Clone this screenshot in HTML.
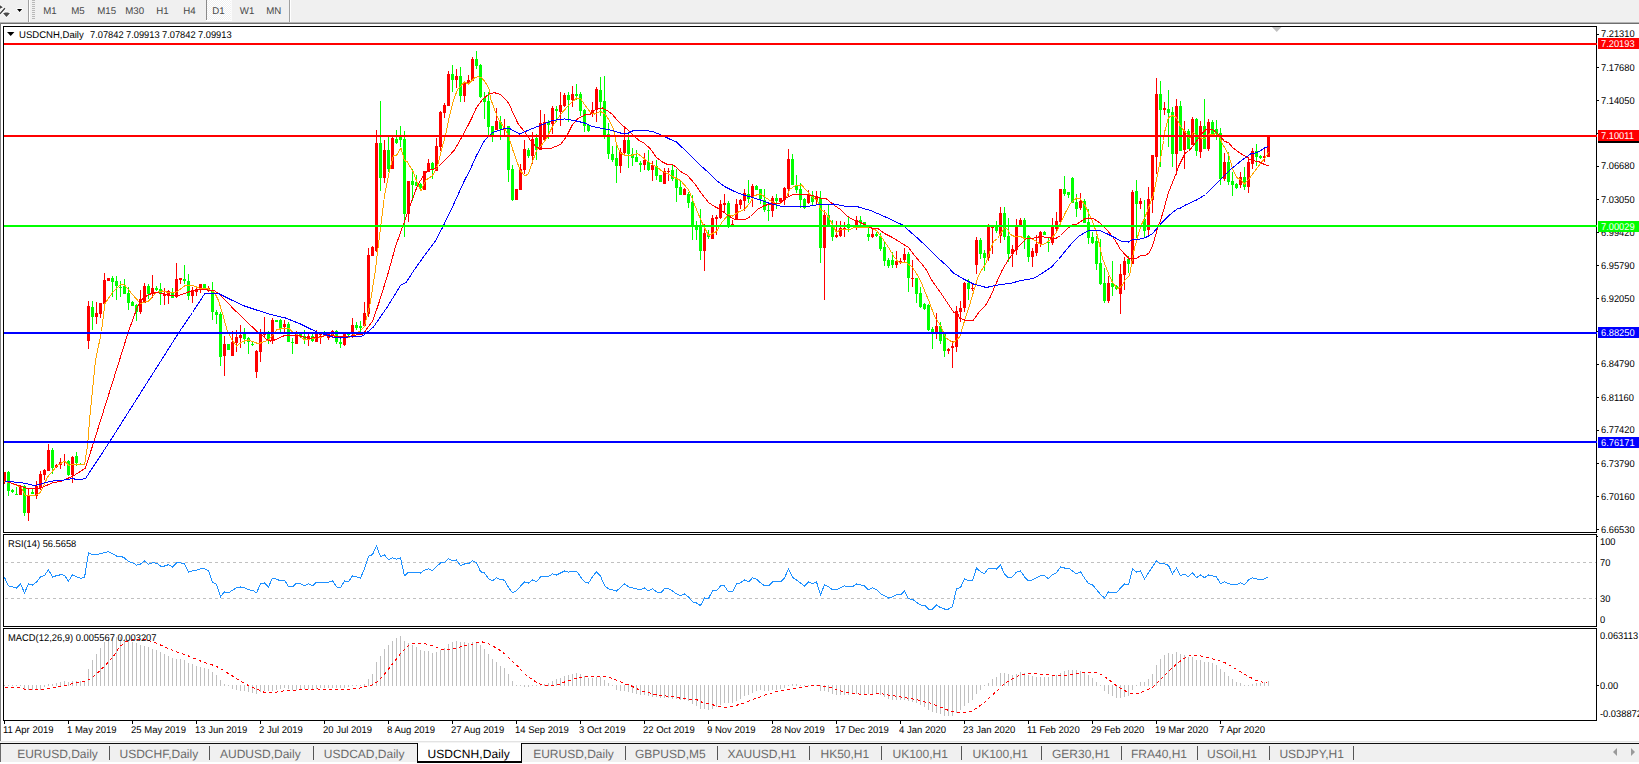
<!DOCTYPE html>
<html><head><meta charset="utf-8"><title>USDCNH,Daily</title>
<style>
html,body{margin:0;padding:0;background:#fff;overflow:hidden;}
body{width:1639px;height:764px;position:relative;overflow:hidden;font-family:"Liberation Sans", sans-serif;}
.t{position:absolute;white-space:pre;font-family:"Liberation Sans", sans-serif;transform-origin:0 0;text-rendering:geometricPrecision;}
.r{position:absolute;}
</style></head><body>
<div class="r" style="left:0px;top:0px;width:1639px;height:22px;background:#f0f0f0;"></div>
<div class="r" style="left:0px;top:22px;width:1639px;height:1px;background:#b4b4b4;"></div>
<div class="r" style="left:0px;top:23px;width:1639px;height:1px;background:#6e6e6e;"></div>
<div class="r" style="left:0px;top:23px;width:1px;height:718px;background:#808080;"></div>
<svg class="r" style="left:0;top:0" width="30" height="22" viewBox="0 0 30 22"><g stroke="#fff" stroke-width="1.6" stroke-linejoin="round" fill="#fff"><path d="M0 5.2 L2.9 7.3 L0 8.7 Z"/><path d="M4.9 8.2 L0 13.7" fill="none" stroke-width="3"/><path d="M3.1 13.3 L5.4 12.4 H7.6 L9.9 13.3 L6.5 17 Z"/><path d="M17 9 H22.2 L19.6 12 Z"/></g><path d="M0 5.2 L2.9 7.3 L0 8.7 Z" fill="#444"/><path d="M4.9 8.2 L0 13.7" stroke="#3c3c3c" stroke-width="1.3" fill="none"/><path d="M3.1 13.3 L5.4 12.4 H7.6 L9.9 13.3 L6.5 17 Z" fill="#4a4a4a"/><path d="M17 9 H22.2 L19.6 12 Z" fill="#000"/></svg>
<div class="r" style="left:28px;top:0px;width:1px;height:22px;background:#a0a0a0;"></div>
<div class="r" style="left:29px;top:0px;width:1px;height:22px;background:#ffffff;"></div>
<div class="r" style="left:32px;top:0px;width:3px;height:1px;background:#b8b8b8;"></div>
<div class="r" style="left:32px;top:2px;width:3px;height:1px;background:#b8b8b8;"></div>
<div class="r" style="left:32px;top:4px;width:3px;height:1px;background:#b8b8b8;"></div>
<div class="r" style="left:32px;top:6px;width:3px;height:1px;background:#b8b8b8;"></div>
<div class="r" style="left:32px;top:8px;width:3px;height:1px;background:#b8b8b8;"></div>
<div class="r" style="left:32px;top:10px;width:3px;height:1px;background:#b8b8b8;"></div>
<div class="r" style="left:32px;top:12px;width:3px;height:1px;background:#b8b8b8;"></div>
<div class="r" style="left:32px;top:14px;width:3px;height:1px;background:#b8b8b8;"></div>
<div class="r" style="left:32px;top:16px;width:3px;height:1px;background:#b8b8b8;"></div>
<div class="r" style="left:32px;top:18px;width:3px;height:1px;background:#b8b8b8;"></div>
<div class="r" style="left:207px;top:0;width:24px;height:20px;background-color:#f0f0f0;background-image:repeating-conic-gradient(#ffffff 0% 25%, #f0f0f0 0% 50%);background-size:2px 2px"></div>
<div class="r" style="left:206px;top:0px;width:1px;height:20px;background:#8a8a8a;"></div>
<div class="r" style="left:206px;top:20px;width:26px;height:1px;background:#ffffff;"></div>
<div class="r" style="left:231px;top:0px;width:1px;height:20px;background:#fafafa;"></div>
<div class="r" style="left:289px;top:0px;width:1px;height:22px;background:#a0a0a0;"></div>
<div class="r" style="left:290px;top:0px;width:1px;height:22px;background:#ffffff;"></div>
<span class="t" style="left:43.30px;top:6.79px;font-size:9.7px;line-height:9.7px;color:#484848;">M1</span>
<span class="t" style="left:71.30px;top:6.79px;font-size:9.7px;line-height:9.7px;color:#484848;">M5</span>
<span class="t" style="left:97.30px;top:6.79px;font-size:9.7px;line-height:9.7px;color:#484848;">M15</span>
<span class="t" style="left:125.30px;top:6.79px;font-size:9.7px;line-height:9.7px;color:#484848;">M30</span>
<span class="t" style="left:156.30px;top:6.79px;font-size:9.7px;line-height:9.7px;color:#484848;">H1</span>
<span class="t" style="left:183.30px;top:6.79px;font-size:9.7px;line-height:9.7px;color:#484848;">H4</span>
<span class="t" style="left:212.30px;top:6.79px;font-size:9.7px;line-height:9.7px;color:#484848;">D1</span>
<span class="t" style="left:239.80px;top:6.79px;font-size:9.7px;line-height:9.7px;color:#484848;">W1</span>
<span class="t" style="left:266.30px;top:6.79px;font-size:9.7px;line-height:9.7px;color:#484848;">MN</span>
<div class="r" style="left:1px;top:24px;width:1638px;height:717px;background:#ffffff;"></div>
<svg class="r" style="left:0;top:0" width="1639" height="764" viewBox="0 0 1639 764">
<line x1="5" y1="562.5" x2="1596" y2="562.5" stroke="#c0c0c0" stroke-width="1" stroke-dasharray="3,3" shape-rendering="crispEdges"/>
<line x1="5" y1="598.5" x2="1596" y2="598.5" stroke="#c0c0c0" stroke-width="1" stroke-dasharray="3,3" shape-rendering="crispEdges"/>
<path d="M4 685v1h1v-1zM8 685v1h1v-1zM12 685v1h1v-1zM16 685v1h1v-1zM20 685v1h1v-1zM24 685v5h1v-5zM28 685v5h1v-5zM32 685v5h1v-5zM36 685v5h1v-5zM40 685v5h1v-5zM44 685v2h1v-2zM48 684v2h1v-2zM52 684v2h1v-2zM56 683v3h1v-3zM60 682v4h1v-4zM64 681v5h1v-5zM68 682v4h1v-4zM72 681v5h1v-5zM76 681v5h1v-5zM80 681v5h1v-5zM84 682v4h1v-4zM88 669v17h1v-17zM92 660v26h1v-26zM96 654v32h1v-32zM100 648v38h1v-38zM104 642v44h1v-44zM108 639v47h1v-47zM112 637v49h1v-49zM116 637v49h1v-49zM120 637v49h1v-49zM124 639v47h1v-47zM128 640v46h1v-46zM132 642v44h1v-44zM136 643v43h1v-43zM140 645v41h1v-41zM144 646v40h1v-40zM148 647v39h1v-39zM152 649v37h1v-37zM156 650v36h1v-36zM160 652v34h1v-34zM164 654v32h1v-32zM168 656v30h1v-30zM172 658v28h1v-28zM176 659v27h1v-27zM180 659v27h1v-27zM184 660v26h1v-26zM188 663v23h1v-23zM192 664v22h1v-22zM196 666v20h1v-20zM200 667v19h1v-19zM204 668v18h1v-18zM208 669v17h1v-17zM212 672v14h1v-14zM216 675v11h1v-11zM220 680v6h1v-6zM224 684v2h1v-2zM228 685v1h1v-1zM232 685v4h1v-4zM236 685v5h1v-5zM240 685v6h1v-6zM244 685v6h1v-6zM248 685v7h1v-7zM252 685v8h1v-8zM256 685v9h1v-9zM260 685v7h1v-7zM264 685v6h1v-6zM268 685v6h1v-6zM272 685v6h1v-6zM276 685v5h1v-5zM280 685v4h1v-4zM284 685v3h1v-3zM288 685v4h1v-4zM292 685v5h1v-5zM296 685v5h1v-5zM300 685v5h1v-5zM304 685v4h1v-4zM308 685v4h1v-4zM312 685v4h1v-4zM316 685v4h1v-4zM320 685v3h1v-3zM324 685v3h1v-3zM328 685v3h1v-3zM332 685v3h1v-3zM336 685v3h1v-3zM340 685v3h1v-3zM344 685v3h1v-3zM348 685v2h1v-2zM352 685v1h1v-1zM356 685v1h1v-1zM360 685v1h1v-1zM364 684v2h1v-2zM368 679v7h1v-7zM372 674v12h1v-12zM376 662v24h1v-24zM380 656v30h1v-30zM384 649v37h1v-37zM388 645v41h1v-41zM392 641v45h1v-45zM396 638v48h1v-48zM400 636v50h1v-50zM404 641v45h1v-45zM408 643v43h1v-43zM412 645v41h1v-41zM416 647v39h1v-39zM420 650v36h1v-36zM424 651v35h1v-35zM428 651v35h1v-35zM432 653v33h1v-33zM436 652v34h1v-34zM440 650v36h1v-36zM444 648v38h1v-38zM448 644v42h1v-42zM452 642v44h1v-44zM456 641v45h1v-45zM460 642v44h1v-44zM464 642v44h1v-44zM468 643v43h1v-43zM472 642v44h1v-44zM476 642v44h1v-44zM480 645v41h1v-41zM484 649v37h1v-37zM488 654v32h1v-32zM492 659v27h1v-27zM496 662v24h1v-24zM500 666v20h1v-20zM504 668v18h1v-18zM508 674v12h1v-12zM512 681v5h1v-5zM516 685v1h1v-1zM520 685v1h1v-1zM524 685v2h1v-2zM528 685v2h1v-2zM532 685v1h1v-1zM536 685v1h1v-1zM540 684v2h1v-2zM544 684v2h1v-2zM548 683v3h1v-3zM552 681v5h1v-5zM556 679v7h1v-7zM560 678v8h1v-8zM564 676v10h1v-10zM568 675v11h1v-11zM572 674v12h1v-12zM576 673v13h1v-13zM580 674v12h1v-12zM584 676v10h1v-10zM588 678v8h1v-8zM592 678v8h1v-8zM596 677v9h1v-9zM600 677v9h1v-9zM604 680v6h1v-6zM608 683v3h1v-3zM612 685v1h1v-1zM616 685v5h1v-5zM620 685v6h1v-6zM624 685v6h1v-6zM628 685v7h1v-7zM632 685v8h1v-8zM636 685v9h1v-9zM640 685v10h1v-10zM644 685v10h1v-10zM648 685v11h1v-11zM652 685v12h1v-12zM656 685v12h1v-12zM660 685v13h1v-13zM664 685v13h1v-13zM668 685v13h1v-13zM672 685v14h1v-14zM676 685v14h1v-14zM680 685v15h1v-15zM684 685v15h1v-15zM688 685v16h1v-16zM692 685v19h1v-19zM696 685v21h1v-21zM700 685v24h1v-24zM704 685v24h1v-24zM708 685v25h1v-25zM712 685v24h1v-24zM716 685v22h1v-22zM720 685v20h1v-20zM724 685v18h1v-18zM728 685v18h1v-18zM732 685v18h1v-18zM736 685v16h1v-16zM740 685v14h1v-14zM744 685v11h1v-11zM748 685v10h1v-10zM752 685v8h1v-8zM756 685v6h1v-6zM760 685v5h1v-5zM764 685v6h1v-6zM768 685v6h1v-6zM772 685v5h1v-5zM776 685v5h1v-5zM780 685v4h1v-4zM784 685v3h1v-3zM788 685v1h1v-1zM792 684v2h1v-2zM796 684v2h1v-2zM800 685v1h1v-1zM804 685v1h1v-1zM808 685v1h1v-1zM812 685v1h1v-1zM816 685v1h1v-1zM820 685v6h1v-6zM824 685v6h1v-6zM828 685v7h1v-7zM832 685v9h1v-9zM836 685v10h1v-10zM840 685v10h1v-10zM844 685v10h1v-10zM848 685v10h1v-10zM852 685v9h1v-9zM856 685v9h1v-9zM860 685v9h1v-9zM864 685v9h1v-9zM868 685v9h1v-9zM872 685v9h1v-9zM876 685v9h1v-9zM880 685v10h1v-10zM884 685v12h1v-12zM888 685v14h1v-14zM892 685v15h1v-15zM896 685v15h1v-15zM900 685v15h1v-15zM904 685v15h1v-15zM908 685v16h1v-16zM912 685v17h1v-17zM916 685v18h1v-18zM920 685v20h1v-20zM924 685v22h1v-22zM928 685v25h1v-25zM932 685v27h1v-27zM936 685v28h1v-28zM940 685v29h1v-29zM944 685v31h1v-31zM948 685v31h1v-31zM952 685v31h1v-31zM956 685v28h1v-28zM960 685v25h1v-25zM964 685v21h1v-21zM968 685v18h1v-18zM972 685v15h1v-15zM976 685v9h1v-9zM980 685v5h1v-5zM984 685v1h1v-1zM988 683v3h1v-3zM992 679v7h1v-7zM996 677v9h1v-9zM1000 673v13h1v-13zM1004 673v13h1v-13zM1008 674v12h1v-12zM1012 675v11h1v-11zM1016 674v12h1v-12zM1020 672v14h1v-14zM1024 673v13h1v-13zM1028 675v11h1v-11zM1032 676v10h1v-10zM1036 677v9h1v-9zM1040 677v9h1v-9zM1044 677v9h1v-9zM1048 677v9h1v-9zM1052 676v10h1v-10zM1056 675v11h1v-11zM1060 673v13h1v-13zM1064 671v15h1v-15zM1068 670v16h1v-16zM1072 670v16h1v-16zM1076 670v16h1v-16zM1080 671v15h1v-15zM1084 672v14h1v-14zM1088 675v11h1v-11zM1092 678v8h1v-8zM1096 682v4h1v-4zM1100 685v1h1v-1zM1104 685v6h1v-6zM1108 685v9h1v-9zM1112 685v11h1v-11zM1116 685v13h1v-13zM1120 685v13h1v-13zM1124 685v12h1v-12zM1128 685v11h1v-11zM1132 685v5h1v-5zM1136 685v1h1v-1zM1140 682v4h1v-4zM1144 682v4h1v-4zM1148 679v7h1v-7zM1152 674v12h1v-12zM1156 665v21h1v-21zM1160 659v27h1v-27zM1164 655v31h1v-31zM1168 653v33h1v-33zM1172 654v32h1v-32zM1176 652v34h1v-34zM1180 654v32h1v-32zM1184 655v31h1v-31zM1188 657v29h1v-29zM1192 657v29h1v-29zM1196 660v26h1v-26zM1200 660v26h1v-26zM1204 662v24h1v-24zM1208 662v24h1v-24zM1212 663v23h1v-23zM1216 665v21h1v-21zM1220 669v17h1v-17zM1224 672v14h1v-14zM1228 676v10h1v-10zM1232 679v7h1v-7zM1236 682v4h1v-4zM1240 683v3h1v-3zM1244 685v1h1v-1zM1248 685v1h1v-1zM1252 684v2h1v-2zM1256 683v3h1v-3zM1260 683v3h1v-3zM1264 682v4h1v-4zM1268 681v5h1v-5z" fill="#c0c0c0" shape-rendering="crispEdges"/>
<path d="M4 472v12h1v-12zM20 485v10h1v-10zM28 488v33h1v-33zM36 481v18h1v-18zM40 471v19h1v-19zM44 469v11h1v-11zM48 444v27h1v-27zM56 464v4h1v-4zM60 458v11h1v-11zM64 454v12h1v-12zM72 456v27h1v-27zM88 301v48h1v-48zM96 302v22h1v-22zM100 303v15h1v-15zM104 273v31h1v-31zM108 278v3h1v-3zM140 290v24h1v-24zM144 283v20h1v-20zM152 275v23h1v-23zM164 288v17h1v-17zM168 290v14h1v-14zM176 263v35h1v-35zM180 278v6h1v-6zM192 287v16h1v-16zM196 288v8h1v-8zM200 284v9h1v-9zM208 286v6h1v-6zM224 336v40h1v-40zM232 331v25h1v-25zM236 330v22h1v-22zM240 325v23h1v-23zM256 350v28h1v-28zM260 329v33h1v-33zM264 317v20h1v-20zM272 318v26h1v-26zM284 320v12h1v-12zM296 331v13h1v-13zM308 334v12h1v-12zM316 330v12h1v-12zM320 334v10h1v-10zM328 334v6h1v-6zM332 330v8h1v-8zM344 334v12h1v-12zM352 318v20h1v-20zM364 302v25h1v-25zM368 248v69h1v-69zM372 246v10h1v-10zM376 130v122h1v-122zM384 140v43h1v-43zM392 137v32h1v-32zM408 181v41h1v-41zM424 171v19h1v-19zM428 159v13h1v-13zM436 138v33h1v-33zM440 111v40h1v-40zM444 103v15h1v-15zM448 71v35h1v-35zM456 69v19h1v-19zM464 82v20h1v-20zM468 75v9h1v-9zM472 57v24h1v-24zM496 108v22h1v-22zM504 119v16h1v-16zM516 189v11h1v-11zM520 164v26h1v-26zM524 140v34h1v-34zM532 132v32h1v-32zM540 110v40h1v-40zM544 114v26h1v-26zM552 106v28h1v-28zM560 92v34h1v-34zM564 93v14h1v-14zM572 86v21h1v-21zM592 102v15h1v-15zM596 87v35h1v-35zM620 148v25h1v-25zM624 126v30h1v-30zM644 153v17h1v-17zM652 161v20h1v-20zM664 168v16h1v-16zM668 168v13h1v-13zM684 188v7h1v-7zM704 224v47h1v-47zM712 215v24h1v-24zM716 215v20h1v-20zM720 200v19h1v-19zM724 194v18h1v-18zM732 220v5h1v-5zM736 199v20h1v-20zM740 199v10h1v-10zM744 189v22h1v-22zM752 184v23h1v-23zM772 196v21h1v-21zM780 198v4h1v-4zM784 187v18h1v-18zM788 149v47h1v-47zM808 190v14h1v-14zM816 191v13h1v-13zM824 210v90h1v-90zM836 221v17h1v-17zM840 221v16h1v-16zM844 222v15h1v-15zM856 216v14h1v-14zM872 229v9h1v-9zM896 251v17h1v-17zM900 258v6h1v-6zM904 248v14h1v-14zM912 260v27h1v-27zM936 313v26h1v-26zM948 348v6h1v-6zM952 341v27h1v-27zM956 306v46h1v-46zM960 301v21h1v-21zM964 282v30h1v-30zM972 284v7h1v-7zM976 237v37h1v-37zM988 224v37h1v-37zM992 226v28h1v-28zM1000 207v36h1v-36zM1012 245v22h1v-22zM1016 219v36h1v-36zM1020 218v7h1v-7zM1032 248v19h1v-19zM1036 235v21h1v-21zM1040 231v16h1v-16zM1052 218v27h1v-27zM1056 212v19h1v-19zM1060 189v33h1v-33zM1080 193v17h1v-17zM1108 276v27h1v-27zM1120 264v50h1v-50zM1124 257v33h1v-33zM1132 190v74h1v-74zM1140 198v11h1v-11zM1148 187v49h1v-49zM1152 155v58h1v-58zM1156 78v96h1v-96zM1164 102v13h1v-13zM1176 99v76h1v-76zM1184 121v48h1v-48zM1192 117v28h1v-28zM1200 121v37h1v-37zM1208 119v32h1v-32zM1224 153v28h1v-28zM1240 172v16h1v-16zM1248 157v36h1v-36zM1252 148v21h1v-21zM1264 147v15h1v-15zM1268 136v21h1v-21zM3 472v9h3v-9zM19 486v9h3v-9zM27 495v18h3v-18zM35 486v10h3v-10zM39 474v14h3v-14zM43 470v5h3v-5zM47 450v21h3v-21zM55 465v2h3v-2zM59 462v3h3v-3zM63 461v1h3v-1zM71 457v18h3v-18zM87 306v35h3v-35zM95 313v4h3v-4zM99 303v11h3v-11zM103 280v24h3v-24zM107 278v3h3v-3zM139 299v13h3v-13zM143 286v17h3v-17zM151 288v6h3v-6zM163 294v2h3v-2zM167 291v5h3v-5zM175 279v18h3v-18zM179 278v2h3v-2zM191 290v6h3v-6zM195 289v3h3v-3zM199 284v6h3v-6zM207 288v3h3v-3zM223 344v12h3v-12zM231 342v14h3v-14zM235 337v6h3v-6zM239 335v3h3v-3zM255 351v21h3v-21zM259 333v19h3v-19zM263 332v3h3v-3zM271 320v20h3v-20zM283 324v3h3v-3zM295 334v10h3v-10zM307 336v4h3v-4zM315 334v8h3v-8zM319 334v1h3v-1zM327 334v4h3v-4zM331 331v5h3v-5zM343 334v11h3v-11zM351 325v9h3v-9zM363 313v13h3v-13zM367 255v59h3v-59zM371 247v9h3v-9zM375 143v108h3v-108zM383 150v28h3v-28zM391 138v31h3v-31zM407 181v33h3v-33zM423 171v19h3v-19zM427 163v9h3v-9zM435 146v25h3v-25zM439 112v35h3v-35zM443 105v8h3v-8zM447 74v32h3v-32zM455 76v4h3v-4zM463 82v14h3v-14zM467 80v3h3v-3zM471 59v22h3v-22zM495 121v9h3v-9zM503 128v2h3v-2zM515 189v11h3v-11zM519 169v21h3v-21zM523 149v21h3v-21zM531 139v17h3v-17zM539 123v27h3v-27zM543 122v18h3v-18zM551 108v16h3v-16zM559 105v7h3v-7zM563 95v11h3v-11zM571 94v6h3v-6zM591 110v4h3v-4zM595 89v21h3v-21zM619 152v14h3v-14zM623 140v13h3v-13zM643 160v5h3v-5zM651 165v5h3v-5zM663 171v13h3v-13zM667 171v1h3v-1zM683 189v6h3v-6zM703 233v18h3v-18zM711 218v21h3v-21zM715 217v2h3v-2zM719 204v14h3v-14zM723 203v2h3v-2zM731 224v1h3v-1zM735 204v15h3v-15zM739 200v5h3v-5zM743 193v8h3v-8zM751 186v11h3v-11zM771 198v13h3v-13zM779 198v4h3v-4zM783 188v12h3v-12zM787 159v30h3v-30zM807 194v9h3v-9zM815 196v4h3v-4zM823 215v33h3v-33zM835 235v2h3v-2zM839 228v8h3v-8zM843 228v1h3v-1zM855 220v6h3v-6zM871 234v3h3v-3zM895 261v4h3v-4zM899 261v1h3v-1zM903 254v6h3v-6zM911 278v1h3v-1zM935 326v7h3v-7zM947 349v2h3v-2zM951 346v2h3v-2zM955 311v36h3v-36zM959 308v4h3v-4zM963 283v25h3v-25zM971 288v1h3v-1zM975 240v25h3v-25zM987 226v32h3v-32zM991 226v2h3v-2zM999 213v23h3v-23zM1011 249v5h3v-5zM1015 226v24h3v-24zM1019 220v5h3v-5zM1031 251v6h3v-6zM1035 244v9h3v-9zM1039 232v12h3v-12zM1051 227v16h3v-16zM1055 221v8h3v-8zM1059 189v33h3v-33zM1079 201v7h3v-7zM1107 283v18h3v-18zM1119 274v20h3v-20zM1123 261v14h3v-14zM1131 192v72h3v-72zM1139 201v3h3v-3zM1147 199v31h3v-31zM1151 155v45h3v-45zM1155 94v63h3v-63zM1163 108v2h3v-2zM1175 106v48h3v-48zM1183 131v19h3v-19zM1191 119v26h3v-26zM1199 126v26h3v-26zM1207 122v27h3v-27zM1223 162v17h3v-17zM1239 177v8h3v-8zM1247 162v25h3v-25zM1251 151v13h3v-13zM1263 156v2h3v-2zM1267 136v21h3v-21z" fill="#ff0000" shape-rendering="crispEdges"/>
<path d="M8 471v25h1v-25zM12 489v4h1v-4zM16 487v8h1v-8zM24 485v31h1v-31zM32 489v5h1v-5zM52 448v26h1v-26zM68 460v16h1v-16zM76 452v14h1v-14zM80 463v2h1v-2zM92 301v29h1v-29zM112 276v21h1v-21zM116 276v24h1v-24zM120 281v16h1v-16zM124 279v15h1v-15zM128 287v23h1v-23zM132 301v5h1v-5zM136 304v17h1v-17zM148 284v15h1v-15zM156 286v5h1v-5zM160 283v22h1v-22zM172 288v10h1v-10zM184 265v19h1v-19zM188 274v26h1v-26zM204 284v4h1v-4zM212 282v38h1v-38zM216 310v14h1v-14zM220 312v54h1v-54zM228 344v6h1v-6zM244 328v16h1v-16zM248 337v17h1v-17zM252 342v4h1v-4zM268 331v13h1v-13zM276 320v2h1v-2zM280 319v13h1v-13zM288 322v20h1v-20zM292 338v16h1v-16zM300 333v5h1v-5zM304 330v14h1v-14zM312 334v8h1v-8zM324 331v4h1v-4zM336 330v14h1v-14zM340 338v10h1v-10zM348 334v2h1v-2zM356 322v8h1v-8zM360 321v11h1v-11zM380 101v90h1v-90zM388 137v35h1v-35zM396 130v14h1v-14zM400 126v21h1v-21zM404 131v106h1v-106zM412 169v32h1v-32zM416 175v11h1v-11zM420 183v8h1v-8zM432 162v17h1v-17zM452 65v27h1v-27zM460 67v35h1v-35zM476 51v18h1v-18zM480 64v34h1v-34zM484 92v27h1v-27zM488 92v43h1v-43zM492 126v16h1v-16zM500 116v24h1v-24zM508 126v56h1v-56zM512 165v36h1v-36zM528 148v10h1v-10zM536 134v26h1v-26zM548 120v19h1v-19zM556 106v16h1v-16zM568 92v30h1v-30zM576 84v16h1v-16zM580 92v24h1v-24zM584 109v23h1v-23zM588 124v8h1v-8zM600 77v39h1v-39zM604 76v63h1v-63zM608 123v36h1v-36zM612 146v16h1v-16zM616 144v39h1v-39zM628 132v36h1v-36zM632 148v18h1v-18zM636 150v12h1v-12zM640 161v11h1v-11zM648 150v21h1v-21zM656 160v20h1v-20zM660 175v7h1v-7zM672 165v16h1v-16zM676 169v33h1v-33zM680 181v14h1v-14zM688 192v16h1v-16zM692 195v45h1v-45zM696 221v19h1v-19zM700 209v51h1v-51zM708 230v9h1v-9zM728 201v27h1v-27zM748 180v23h1v-23zM756 185v5h1v-5zM760 189v15h1v-15zM764 189v23h1v-23zM768 204v17h1v-17zM776 194v15h1v-15zM792 154v31h1v-31zM796 175v18h1v-18zM800 183v25h1v-25zM804 198v11h1v-11zM812 191v14h1v-14zM820 191v72h1v-72zM828 205v22h1v-22zM832 220v21h1v-21zM848 217v15h1v-15zM860 216v9h1v-9zM864 222v6h1v-6zM868 228v13h1v-13zM876 232v5h1v-5zM880 233v18h1v-18zM884 241v25h1v-25zM888 258v10h1v-10zM892 252v16h1v-16zM908 252v40h1v-40zM916 278v25h1v-25zM920 287v21h1v-21zM924 303v7h1v-7zM928 304v27h1v-27zM932 327v22h1v-22zM940 322v22h1v-22zM944 333v24h1v-24zM968 279v21h1v-21zM980 238v21h1v-21zM984 250v21h1v-21zM996 221v12h1v-12zM1004 207v33h1v-33zM1008 218v44h1v-44zM1024 218v31h1v-31zM1028 235v27h1v-27zM1044 231v4h1v-4zM1048 238v14h1v-14zM1064 176v20h1v-20zM1068 192v6h1v-6zM1072 177v26h1v-26zM1076 194v23h1v-23zM1084 199v24h1v-24zM1088 209v35h1v-35zM1092 232v12h1v-12zM1096 236v34h1v-34zM1100 239v46h1v-46zM1104 268v35h1v-35zM1112 261v35h1v-35zM1116 285v5h1v-5zM1128 256v17h1v-17zM1136 180v58h1v-58zM1144 200v37h1v-37zM1160 81v86h1v-86zM1168 90v57h1v-57zM1172 107v60h1v-60zM1180 101v50h1v-50zM1188 129v20h1v-20zM1196 118v38h1v-38zM1204 99v50h1v-50zM1212 120v16h1v-16zM1216 120v20h1v-20zM1220 128v57h1v-57zM1228 152v33h1v-33zM1232 172v24h1v-24zM1236 183v6h1v-6zM1244 167v23h1v-23zM1256 144v22h1v-22zM1260 155v4h1v-4zM7 472v19h3v-19zM11 490v2h3v-2zM15 494v1h3v-1zM23 486v27h3v-27zM31 492v2h3v-2zM51 450v18h3v-18zM67 461v14h3v-14zM75 456v7h3v-7zM79 464v1h3v-1zM91 307v10h3v-10zM111 278v4h3v-4zM115 281v5h3v-5zM119 287v1h3v-1zM123 286v8h3v-8zM127 293v10h3v-10zM131 302v4h3v-4zM135 305v7h3v-7zM147 286v8h3v-8zM155 288v2h3v-2zM159 289v5h3v-5zM171 292v6h3v-6zM183 279v2h3v-2zM187 281v15h3v-15zM203 284v4h3v-4zM211 290v22h3v-22zM215 312v3h3v-3zM219 314v43h3v-43zM227 344v6h3v-6zM243 334v5h3v-5zM247 338v4h3v-4zM251 344v1h3v-1zM267 332v8h3v-8zM275 320v2h3v-2zM279 320v8h3v-8zM287 324v18h3v-18zM291 342v1h3v-1zM299 334v3h3v-3zM303 336v4h3v-4zM311 336v5h3v-5zM323 332v2h3v-2zM335 331v11h3v-11zM339 342v2h3v-2zM347 334v1h3v-1zM355 325v3h3v-3zM359 326v2h3v-2zM379 143v35h3v-35zM387 150v19h3v-19zM395 139v4h3v-4zM399 137v3h3v-3zM403 139v75h3v-75zM411 181v4h3v-4zM415 182v4h3v-4zM419 184v4h3v-4zM431 163v6h3v-6zM451 74v6h3v-6zM459 76v20h3v-20zM475 59v7h3v-7zM479 65v32h3v-32zM483 98v4h3v-4zM487 101v26h3v-26zM491 126v9h3v-9zM499 122v7h3v-7zM507 126v44h3v-44zM511 169v31h3v-31zM527 150v6h3v-6zM535 138v12h3v-12zM547 122v3h3v-3zM555 109v2h3v-2zM567 95v5h3v-5zM575 94v2h3v-2zM579 94v17h3v-17zM583 110v16h3v-16zM587 125v6h3v-6zM599 90v12h3v-12zM603 101v34h3v-34zM607 134v20h3v-20zM611 154v6h3v-6zM615 158v8h3v-8zM627 140v14h3v-14zM631 154v4h3v-4zM635 157v5h3v-5zM639 163v2h3v-2zM647 162v8h3v-8zM655 166v10h3v-10zM659 175v7h3v-7zM671 170v9h3v-9zM675 178v10h3v-10zM679 187v8h3v-8zM687 194v9h3v-9zM691 202v23h3v-23zM695 226v4h3v-4zM699 227v24h3v-24zM707 234v3h3v-3zM727 203v22h3v-22zM747 194v5h3v-5zM755 186v4h3v-4zM759 189v10h3v-10zM763 200v10h3v-10zM767 210v1h3v-1zM775 198v3h3v-3zM791 159v26h3v-26zM795 185v5h3v-5zM799 189v11h3v-11zM803 199v9h3v-9zM811 195v7h3v-7zM819 198v50h3v-50zM827 215v12h3v-12zM831 227v10h3v-10zM847 224v4h3v-4zM859 220v2h3v-2zM863 222v4h3v-4zM867 234v3h3v-3zM875 234v2h3v-2zM879 236v13h3v-13zM883 247v14h3v-14zM887 260v6h3v-6zM891 260v5h3v-5zM907 254v24h3v-24zM915 278v16h3v-16zM919 293v14h3v-14zM923 304v5h3v-5zM927 305v25h3v-25zM931 329v5h3v-5zM939 326v15h3v-15zM943 334v17h3v-17zM967 283v6h3v-6zM979 240v14h3v-14zM983 253v5h3v-5zM995 226v5h3v-5zM1003 213v24h3v-24zM1007 236v18h3v-18zM1023 220v19h3v-19zM1027 236v21h3v-21zM1043 232v3h3v-3zM1047 242v1h3v-1zM1063 189v5h3v-5zM1067 192v3h3v-3zM1071 178v25h3v-25zM1075 202v7h3v-7zM1083 201v22h3v-22zM1087 222v16h3v-16zM1091 237v6h3v-6zM1095 241v23h3v-23zM1099 263v21h3v-21zM1103 283v18h3v-18zM1111 283v4h3v-4zM1115 286v3h3v-3zM1127 259v5h3v-5zM1135 191v13h3v-13zM1143 219v12h3v-12zM1159 94v16h3v-16zM1167 109v4h3v-4zM1171 112v42h3v-42zM1179 106v45h3v-45zM1187 131v18h3v-18zM1195 119v32h3v-32zM1203 126v23h3v-23zM1211 122v14h3v-14zM1215 129v5h3v-5zM1219 133v46h3v-46zM1227 162v20h3v-20zM1231 181v4h3v-4zM1235 184v4h3v-4zM1243 177v10h3v-10zM1255 151v6h3v-6zM1259 156v2h3v-2z" fill="#00ff00" shape-rendering="crispEdges"/>
<g transform="translate(0.5,0.5)">
<polyline points="4.0,480.6 11.8,483.0 20.6,486.5 24.7,494.8 35.3,494.8 40.0,491.8 47.1,476.5 56.5,465.3 64.2,460.6 68.3,464.7 73.0,463.6 84.2,464.1 85.5,455.0 87.2,443.5 89.0,420.0 95.0,360.0 101.0,331.0 104.5,303.0 112.0,292.0 120.5,283.5 124.5,285.0 132.0,294.0 140.0,303.0 148.0,300.5 156.0,292.0 162.0,290.5 170.0,292.5 176.0,291.5 184.0,285.5 192.0,285.0 200.0,288.0 208.0,288.5 214.0,292.0 218.0,300.0 222.0,313.0 227.0,331.0 232.0,340.0 236.0,345.5 242.0,341.0 248.0,339.5 256.0,342.5 260.0,342.5 268.0,339.5 272.0,335.0 276.0,329.5 282.0,327.5 288.0,327.5 292.0,331.5 300.0,336.0 304.0,339.5 312.0,338.0 320.0,337.0 324.0,335.0 332.0,334.5 340.0,337.0 348.0,337.0 354.0,334.0 360.0,330.0 364.0,326.0 366.2,317.0 369.6,303.4 374.7,271.1 378.0,243.0 381.0,220.0 384.0,195.0 388.0,175.0 389.7,168.0 393.0,155.0 396.0,155.0 400.5,147.5 404.0,160.0 407.0,161.5 409.0,165.0 413.0,172.0 417.0,183.0 420.5,190.5 425.0,180.0 432.0,175.0 435.0,170.0 438.0,162.0 441.0,149.0 445.0,135.0 449.0,115.5 453.0,100.0 457.0,89.0 464.0,81.5 468.0,83.5 474.0,77.5 477.0,76.2 481.0,77.0 485.0,82.0 488.5,88.0 490.0,98.0 493.0,106.0 497.0,117.0 504.0,128.0 508.0,135.0 512.0,148.5 516.0,160.0 520.0,170.5 524.5,175.5 528.0,173.0 532.0,161.0 537.0,148.0 540.0,146.0 546.0,138.0 552.0,126.0 560.0,114.0 568.0,105.0 576.0,97.5 580.0,98.0 584.0,104.0 590.0,112.0 594.0,113.5 600.0,111.0 604.0,113.0 609.0,120.0 613.0,129.0 616.0,144.0 620.0,152.5 624.0,154.5 632.0,154.5 637.0,153.0 641.0,156.0 646.0,160.0 652.0,164.0 657.0,167.0 662.0,171.0 668.0,173.5 672.0,176.0 680.0,180.0 688.0,189.0 694.0,204.0 701.0,221.0 708.0,235.0 716.0,231.0 722.0,221.0 728.0,214.0 732.0,215.5 738.0,211.5 744.0,209.0 749.0,203.0 754.0,195.0 760.0,193.5 768.0,199.0 774.0,202.5 780.0,203.0 786.0,197.0 789.0,189.0 795.0,185.0 801.0,184.5 806.0,190.0 812.0,197.0 817.0,200.0 820.0,209.3 825.0,212.0 830.0,220.0 836.0,232.0 840.0,229.0 848.0,229.5 854.0,227.0 870.0,227.0 876.0,230.0 882.0,238.0 888.0,247.0 894.0,257.0 898.0,261.5 906.0,262.0 912.0,267.0 916.0,273.0 920.0,280.0 924.0,290.0 929.0,302.0 934.0,316.0 940.0,325.0 945.0,337.0 952.0,342.0 956.0,340.0 960.0,335.0 962.0,327.0 965.0,317.0 969.0,305.0 974.0,288.0 977.0,278.0 980.0,271.0 985.0,264.0 989.0,252.0 993.0,241.0 997.0,238.0 1004.0,227.0 1007.0,229.0 1010.0,234.0 1014.0,236.0 1020.0,236.0 1024.0,238.0 1030.0,237.5 1036.0,241.0 1040.0,244.0 1044.0,243.5 1050.0,239.0 1056.0,232.0 1060.0,223.0 1065.0,212.0 1070.0,203.0 1076.0,197.5 1080.0,198.5 1084.0,204.0 1088.0,212.0 1092.0,221.0 1096.0,232.0 1099.0,244.0 1102.0,258.0 1108.0,273.0 1112.0,282.0 1117.0,288.0 1121.0,286.0 1125.0,279.0 1129.0,275.0 1131.0,264.0 1133.0,252.0 1134.5,246.0 1137.0,237.0 1139.0,229.5 1141.5,223.0 1144.0,218.0 1147.0,210.0 1153.0,194.0 1157.0,174.0 1160.0,159.0 1163.0,140.0 1164.0,132.0 1168.0,117.0 1172.0,115.0 1176.0,117.0 1180.0,126.0 1186.0,133.0 1189.0,138.0 1193.0,132.0 1198.0,137.0 1204.0,138.0 1209.0,133.5 1213.0,134.5 1216.0,132.0 1219.0,136.0 1221.5,142.5 1228.0,154.0 1232.0,168.0 1236.0,177.0 1240.0,179.0 1244.0,183.5 1248.0,179.0 1254.0,171.0 1260.0,163.0 1264.0,158.0 1268.0,152.0" fill="none" stroke="#ffa500" stroke-width="1" shape-rendering="crispEdges"/>
<polyline points="4.0,480.0 15.3,484.2 28.3,488.3 36.5,488.3 42.4,486.5 51.8,482.4 61.2,480.6 73.0,475.3 84.8,467.7 93.0,442.4 128.0,331.0 136.0,309.0 140.0,300.0 148.0,294.0 156.0,292.0 164.0,293.5 172.0,295.5 180.0,294.5 188.0,291.5 200.0,289.0 214.0,290.0 220.0,295.0 230.0,305.0 231.0,306.5 242.0,317.0 257.0,331.5 262.0,335.0 266.0,339.0 270.0,340.5 274.0,339.5 283.0,335.5 296.0,335.0 300.0,335.5 308.0,338.0 316.0,337.0 324.0,335.5 330.0,335.0 340.0,336.5 348.0,336.0 356.0,334.5 362.0,334.3 372.2,320.4 378.1,303.4 386.6,276.2 395.1,245.6 404.0,221.0 410.0,204.0 417.0,185.0 423.0,175.0 428.0,169.5 434.0,168.5 438.0,166.0 446.0,158.0 454.0,149.5 460.0,139.0 468.0,124.0 472.0,116.0 476.0,107.0 482.0,99.0 489.0,93.0 494.0,92.2 500.0,94.0 506.0,100.0 509.0,104.0 512.0,111.5 518.0,124.0 524.0,131.0 530.0,140.0 536.0,147.0 542.0,148.5 550.0,148.0 560.0,144.0 566.0,136.0 572.0,124.0 577.0,118.5 584.0,114.5 590.0,113.5 596.0,108.0 602.0,107.5 608.0,111.0 612.0,114.0 616.0,119.0 622.0,125.0 627.0,129.0 634.0,136.0 638.0,139.5 644.0,143.0 650.0,148.5 656.0,157.0 662.0,161.5 666.0,163.5 671.0,163.5 676.0,166.7 680.0,171.0 687.0,175.0 694.0,183.0 701.0,193.0 708.0,202.0 714.0,206.0 720.0,209.0 726.0,214.0 734.0,219.0 744.0,219.5 750.0,216.0 757.0,209.0 764.0,205.0 772.0,203.0 780.0,202.5 786.0,197.0 794.0,193.5 802.0,193.5 808.0,194.5 816.0,196.0 821.0,198.0 826.0,198.5 828.0,200.0 834.0,205.0 840.0,209.0 846.0,215.0 852.0,219.0 860.0,222.0 866.0,225.0 872.0,228.0 878.0,228.5 884.0,233.0 892.0,237.0 900.0,242.0 908.0,247.0 914.0,255.0 920.0,262.0 925.0,268.0 932.0,281.0 940.0,292.0 948.0,304.0 953.0,311.5 957.0,312.5 959.0,317.5 964.0,319.5 973.0,319.5 979.0,311.0 985.0,305.0 990.0,296.0 996.0,282.0 1002.0,269.0 1008.0,259.0 1016.0,248.0 1021.0,243.0 1026.0,238.0 1034.0,237.5 1040.0,236.0 1050.0,237.5 1056.0,237.5 1060.0,235.0 1066.0,229.0 1072.0,224.0 1076.0,224.0 1084.0,218.5 1088.0,217.5 1093.0,218.0 1100.0,223.0 1106.0,229.0 1112.0,236.0 1116.0,242.0 1120.0,249.0 1124.5,254.0 1129.0,258.5 1132.5,257.7 1136.5,257.5 1139.5,255.5 1144.5,255.2 1148.5,252.5 1152.0,245.5 1154.5,237.0 1156.5,229.5 1158.5,223.5 1160.0,220.0 1163.0,210.0 1168.0,192.0 1176.0,172.0 1178.0,166.0 1185.0,152.0 1188.0,151.0 1192.0,146.0 1198.0,138.0 1202.0,132.5 1206.0,128.5 1211.0,128.5 1216.0,132.0 1220.0,136.0 1224.0,141.0 1228.0,142.0 1232.0,147.0 1238.0,151.5 1245.0,156.0 1251.0,160.0 1258.0,161.0 1263.0,163.5 1268.0,165.5" fill="none" stroke="#ff0000" stroke-width="1" shape-rendering="crispEdges"/>
<polyline points="4.0,480.5 22.4,482.4 31.8,484.5 36.5,484.5 50.6,480.6 61.2,480.0 71.8,478.0 76.5,479.1 84.8,478.3 108.4,442.4 179.0,331.0 192.0,312.0 204.0,293.5 207.0,292.5 217.0,292.5 230.0,299.0 244.0,305.5 256.0,309.5 270.0,314.0 285.0,317.5 300.0,323.5 310.0,328.5 318.0,332.0 326.0,334.5 332.0,336.5 340.0,337.5 348.0,336.5 362.0,335.5 364.0,334.0 366.2,332.3 373.0,326.4 386.6,306.8 400.2,284.7 405.3,282.2 413.8,269.4 424.0,255.0 435.0,240.5 443.0,225.0 454.0,202.0 464.0,180.0 470.0,168.5 476.0,155.0 484.0,140.0 492.0,132.0 504.0,128.0 510.0,128.5 519.0,133.5 526.0,130.5 532.0,128.0 542.0,124.0 552.0,120.0 564.0,118.5 576.0,120.5 584.0,122.5 592.0,126.0 602.0,128.0 612.0,130.0 620.0,132.5 628.0,132.5 634.0,129.5 642.0,129.5 652.0,131.0 662.0,135.0 670.0,139.0 676.0,141.5 688.0,153.0 700.0,165.0 708.0,172.0 716.0,180.0 724.0,186.0 734.0,191.0 743.0,194.5 752.0,197.0 760.0,199.5 768.0,202.5 779.0,205.5 804.0,206.0 810.0,205.5 816.0,204.5 822.0,204.0 833.0,203.5 846.0,206.0 858.0,206.5 870.0,210.0 884.0,216.0 902.0,224.5 910.0,231.5 918.0,238.5 926.0,246.0 934.0,254.0 938.0,258.0 946.0,265.0 953.0,272.5 962.0,278.0 973.0,283.5 984.0,286.5 988.0,286.5 1000.0,284.0 1010.0,283.0 1020.0,280.0 1033.0,278.0 1038.0,275.0 1042.0,272.5 1051.0,266.5 1058.0,259.0 1066.0,249.0 1072.0,242.0 1078.0,236.0 1086.0,231.0 1090.0,229.5 1098.0,229.5 1106.0,233.0 1114.0,237.0 1120.0,240.5 1126.5,240.7 1128.0,241.5 1131.5,239.5 1141.5,238.2 1145.0,237.0 1148.5,235.2 1152.0,233.0 1155.0,229.5 1158.0,226.0 1161.5,222.0 1170.0,213.7 1176.5,208.5 1180.0,207.5 1184.0,205.0 1196.0,199.5 1205.0,194.0 1218.0,181.0 1230.0,169.0 1241.0,160.0 1250.0,153.5 1257.0,152.0 1264.0,147.5 1268.0,146.0" fill="none" stroke="#0000ff" stroke-width="1" shape-rendering="crispEdges"/>
<polyline points="4.0,576.9 8.0,585.4 12.0,586.3 16.0,587.7 20.0,583.2 24.0,592.6 28.0,583.2 32.0,584.6 36.0,581.6 40.0,576.3 44.0,574.9 48.0,569.3 52.0,576.5 56.0,575.2 60.0,574.3 64.0,574.7 68.0,580.6 72.0,574.3 76.0,576.3 80.0,577.6 84.0,577.3 88.0,552.1 92.0,554.5 96.0,554.4 100.0,553.0 104.0,552.1 108.0,551.2 112.0,553.2 116.0,555.5 120.0,555.5 124.0,557.5 128.0,561.1 132.0,562.2 136.0,564.6 140.0,563.5 144.0,560.4 148.0,563.8 152.0,562.4 156.0,562.6 160.0,565.5 164.0,565.5 168.0,564.2 172.0,566.6 176.0,562.4 180.0,562.4 184.0,563.2 188.0,571.6 192.0,570.2 196.0,569.6 200.0,568.2 204.0,568.2 208.0,570.2 212.0,581.9 216.0,583.7 220.0,596.4 224.0,591.3 228.0,592.4 232.0,589.7 236.0,587.4 240.0,586.5 244.0,587.4 248.0,589.4 252.0,589.7 256.0,592.4 260.0,583.2 264.0,582.3 268.0,586.3 272.0,577.6 276.0,578.7 280.0,580.3 284.0,579.6 288.0,586.3 292.0,586.3 296.0,582.6 300.0,583.2 304.0,585.3 308.0,583.2 312.0,585.4 316.0,581.6 320.0,581.6 324.0,581.6 328.0,581.6 332.0,580.3 336.0,586.3 340.0,587.4 344.0,580.3 348.0,581.4 352.0,575.3 356.0,576.3 360.0,577.6 364.0,568.2 368.0,555.9 372.0,554.1 376.0,545.4 380.0,556.1 384.0,554.5 388.0,559.2 392.0,557.2 396.0,558.6 400.0,557.5 404.0,575.3 408.0,571.6 412.0,571.6 416.0,571.6 420.0,572.5 424.0,569.6 428.0,568.2 432.0,570.2 436.0,566.2 440.0,562.4 444.0,562.2 448.0,558.1 452.0,560.2 456.0,559.5 460.0,565.3 464.0,563.5 468.0,563.2 472.0,560.4 476.0,562.2 480.0,571.2 484.0,572.5 488.0,578.3 492.0,580.3 496.0,577.3 500.0,579.2 504.0,579.6 508.0,587.0 512.0,592.4 516.0,590.1 520.0,585.7 524.0,581.4 528.0,582.6 532.0,579.4 536.0,581.4 540.0,576.3 544.0,576.3 548.0,576.0 552.0,573.3 556.0,574.5 560.0,572.5 564.0,570.5 568.0,571.6 572.0,570.5 576.0,570.5 580.0,576.3 584.0,581.4 588.0,582.6 592.0,576.3 596.0,571.3 600.0,575.6 604.0,585.0 608.0,588.3 612.0,589.4 616.0,590.5 620.0,587.0 624.0,583.4 628.0,586.3 632.0,587.4 636.0,588.3 640.0,589.4 644.0,587.4 648.0,590.4 652.0,588.3 656.0,591.3 660.0,592.4 664.0,588.3 668.0,588.3 672.0,590.4 676.0,593.4 680.0,595.3 684.0,593.4 688.0,596.4 692.0,601.4 696.0,602.4 700.0,605.1 704.0,597.5 708.0,598.0 712.0,590.4 716.0,590.4 720.0,585.4 724.0,585.4 728.0,591.4 732.0,591.4 736.0,583.4 740.0,582.3 744.0,579.4 748.0,581.4 752.0,577.3 756.0,578.7 760.0,582.3 764.0,585.4 768.0,585.4 772.0,581.4 776.0,581.4 780.0,581.4 784.0,577.6 788.0,568.2 792.0,576.9 796.0,579.6 800.0,582.6 804.0,585.4 808.0,581.4 812.0,583.0 816.0,581.4 820.0,594.4 824.0,584.3 828.0,586.3 832.0,589.4 836.0,589.4 840.0,587.0 844.0,585.4 848.0,586.3 852.0,586.3 856.0,583.4 860.0,584.3 864.0,585.4 868.0,589.4 872.0,587.4 876.0,589.0 880.0,593.0 884.0,595.3 888.0,597.5 892.0,596.4 896.0,594.4 900.0,594.4 904.0,590.4 908.0,598.4 912.0,598.7 916.0,601.8 920.0,604.5 924.0,604.7 928.0,608.5 932.0,608.5 936.0,604.5 940.0,607.1 944.0,608.5 948.0,608.5 952.0,606.1 956.0,588.3 960.0,587.0 964.0,578.3 968.0,580.3 972.0,580.3 976.0,567.5 980.0,571.2 984.0,573.3 988.0,567.5 992.0,567.5 996.0,568.5 1000.0,564.5 1004.0,573.6 1008.0,577.3 1012.0,576.3 1016.0,571.6 1020.0,570.5 1024.0,576.3 1028.0,580.3 1032.0,579.4 1036.0,577.3 1040.0,575.3 1044.0,575.3 1048.0,578.3 1052.0,574.3 1056.0,572.2 1060.0,566.5 1064.0,567.5 1068.0,567.5 1072.0,570.6 1076.0,573.3 1080.0,571.3 1084.0,577.6 1088.0,583.0 1092.0,584.3 1096.0,589.0 1100.0,594.0 1104.0,597.5 1108.0,591.3 1112.0,592.4 1116.0,592.4 1120.0,587.4 1124.0,583.4 1128.0,584.3 1132.0,568.6 1136.0,571.6 1140.0,570.5 1144.0,578.7 1148.0,572.2 1152.0,566.2 1156.0,560.4 1160.0,563.5 1164.0,563.2 1168.0,564.9 1172.0,573.3 1176.0,567.5 1180.0,575.3 1184.0,573.6 1188.0,576.3 1192.0,572.2 1196.0,577.3 1200.0,574.5 1204.0,577.3 1208.0,574.5 1212.0,575.3 1216.0,576.3 1220.0,583.4 1224.0,581.4 1228.0,583.0 1232.0,584.3 1236.0,584.3 1240.0,582.3 1244.0,584.3 1248.0,579.4 1252.0,577.3 1256.0,578.3 1260.0,579.4 1264.0,578.3 1268.0,576.3" fill="none" stroke="#1e90ff" stroke-width="1" shape-rendering="crispEdges"/>
<polyline points="4.4,687.4 20.0,687.4 24.0,688.7 40.0,689.0 53.7,687.4 64.4,685.0 72.5,683.0 84.6,681.0 90.0,678.3 96.6,673.0 104.7,664.9 112.8,656.2 118.0,647.4 124.8,641.4 134.0,638.7 145.0,639.1 153.0,641.4 161.0,645.0 174.5,650.8 188.0,655.5 201.0,660.9 215.4,665.6 222.7,669.6 228.8,673.6 234.8,677.2 240.9,681.3 246.9,684.4 252.3,687.0 257.6,689.3 263.0,691.5 276.4,691.5 283.1,690.4 292.5,689.7 306.0,688.8 316.7,688.4 319.4,689.1 332.8,688.7 347.6,688.7 361.0,687.4 366.4,685.7 373.1,684.1 378.4,679.7 385.2,672.3 391.9,663.6 398.6,654.8 405.3,647.4 409.3,644.1 414.7,642.5 421.0,642.5 426.7,643.8 433.4,645.8 440.1,648.5 445.5,649.5 452.2,648.5 457.6,647.2 462.9,645.4 469.6,644.8 475.0,642.5 481.7,641.4 487.8,643.2 493.8,646.4 499.8,649.9 505.9,654.8 511.9,661.0 518.0,666.5 523.3,672.3 528.7,677.0 534.7,681.0 540.8,684.4 546.1,685.4 552.9,685.4 558.9,683.7 564.3,681.4 570.3,679.7 576.3,677.4 579.7,677.2 583.1,675.6 606.6,675.6 612.6,678.3 618.6,680.7 624.7,683.4 630.7,685.3 636.7,688.4 642.7,691.1 648.8,692.4 654.8,694.2 660.8,694.7 666.9,695.8 672.9,696.4 679.0,697.5 685.0,697.5 691.0,699.1 697.1,699.5 702.4,702.2 708.5,703.6 714.5,704.8 720.6,706.5 726.6,706.5 732.6,705.6 738.7,704.1 744.7,702.2 750.8,699.5 756.8,697.5 762.8,695.1 768.9,693.1 774.9,691.5 781.0,690.4 787.0,688.7 793.0,688.4 799.1,686.6 805.1,686.4 811.2,685.4 817.2,685.4 822.6,685.7 828.6,686.6 834.7,688.7 840.7,690.7 846.7,691.7 852.0,693.4 858.1,693.4 864.1,694.4 870.1,694.4 876.2,693.4 881.6,693.4 888.3,694.7 894.3,695.5 900.3,696.4 906.4,697.5 912.4,698.5 917.8,699.5 924.5,701.5 929.9,702.5 935.9,705.2 942.6,707.4 948.7,710.3 954.0,711.6 960.1,712.6 966.1,711.6 972.2,710.3 978.2,706.2 984.2,701.8 990.3,695.8 996.3,690.7 1002.4,684.8 1008.4,680.3 1014.4,677.0 1020.5,674.3 1026.5,673.4 1032.6,673.4 1037.9,673.4 1044.0,674.3 1050.0,674.3 1056.1,675.4 1062.0,675.4 1068.1,674.3 1074.1,673.4 1080.1,672.3 1086.2,671.6 1092.9,671.6 1098.9,673.2 1104.3,676.3 1110.3,680.7 1116.4,685.7 1122.4,689.1 1128.5,692.4 1134.5,693.4 1140.5,692.0 1146.6,689.5 1152.6,686.4 1158.7,680.3 1164.7,674.3 1170.7,668.3 1176.8,662.9 1182.8,658.2 1188.2,655.5 1194.2,654.6 1200.3,655.5 1206.3,656.8 1212.3,658.5 1218.4,660.2 1224.4,662.2 1230.5,665.6 1236.5,669.2 1242.6,672.7 1248.6,676.3 1254.6,679.4 1260.7,681.4 1266.7,682.3" fill="none" stroke="#ff0000" stroke-width="1" stroke-dasharray="3,3" shape-rendering="crispEdges"/>
</g>
</svg>
<div class="r" style="left:3px;top:26px;width:1594px;height:1px;background:#000;"></div>
<div class="r" style="left:3px;top:532px;width:1594px;height:1px;background:#000;"></div>
<div class="r" style="left:3px;top:26px;width:1px;height:507px;background:#000;"></div>
<div class="r" style="left:1596px;top:26px;width:1px;height:507px;background:#000;"></div>
<div class="r" style="left:3px;top:534px;width:1594px;height:1px;background:#000;"></div>
<div class="r" style="left:3px;top:626px;width:1594px;height:1px;background:#000;"></div>
<div class="r" style="left:3px;top:534px;width:1px;height:93px;background:#000;"></div>
<div class="r" style="left:1596px;top:534px;width:1px;height:93px;background:#000;"></div>
<div class="r" style="left:3px;top:628px;width:1594px;height:1px;background:#000;"></div>
<div class="r" style="left:3px;top:720px;width:1594px;height:1px;background:#000;"></div>
<div class="r" style="left:3px;top:628px;width:1px;height:93px;background:#000;"></div>
<div class="r" style="left:1596px;top:628px;width:1px;height:93px;background:#000;"></div>
<div class="r" style="left:4px;top:43px;width:1593px;height:2px;background:#ff0000;"></div>
<div class="r" style="left:4px;top:135px;width:1593px;height:2px;background:#ff0000;"></div>
<div class="r" style="left:4px;top:225px;width:1593px;height:2px;background:#00ff00;"></div>
<div class="r" style="left:4px;top:332px;width:1593px;height:2px;background:#0000ff;"></div>
<div class="r" style="left:4px;top:441px;width:1593px;height:2px;background:#0000ff;"></div>
<svg class="r" style="left:1270.6px;top:27px" width="12" height="6"><path d="M1 0 H10.5 L5.75 5 Z" fill="#c0c0c0"/></svg>
<svg class="r" style="left:6px;top:31px" width="10" height="6"><path d="M1 1 H8.4 L4.7 5 Z" fill="#000"/></svg>
<span class="t" style="left:19.00px;top:30.70px;font-size:9.8px;line-height:9.8px;color:#000;transform:scaleX(0.975);">USDCNH,Daily</span>
<span class="t" style="left:90.30px;top:30.70px;font-size:9.8px;line-height:9.8px;color:#000;transform:scaleX(0.95);">7.07842</span>
<span class="t" style="left:126.30px;top:30.70px;font-size:9.8px;line-height:9.8px;color:#000;transform:scaleX(0.95);">7.09913</span>
<span class="t" style="left:162.30px;top:30.70px;font-size:9.8px;line-height:9.8px;color:#000;transform:scaleX(0.95);">7.07842</span>
<span class="t" style="left:198.00px;top:30.70px;font-size:9.8px;line-height:9.8px;color:#000;transform:scaleX(0.95);">7.09913</span>
<div class="r" style="left:1597px;top:34px;width:2px;height:1px;background:#000;"></div>
<div class="r" style="left:1597px;top:67px;width:2px;height:1px;background:#000;"></div>
<div class="r" style="left:1597px;top:100px;width:2px;height:1px;background:#000;"></div>
<div class="r" style="left:1597px;top:133px;width:2px;height:1px;background:#000;"></div>
<div class="r" style="left:1597px;top:166px;width:2px;height:1px;background:#000;"></div>
<div class="r" style="left:1597px;top:199px;width:2px;height:1px;background:#000;"></div>
<div class="r" style="left:1597px;top:232px;width:2px;height:1px;background:#000;"></div>
<div class="r" style="left:1597px;top:265px;width:2px;height:1px;background:#000;"></div>
<div class="r" style="left:1597px;top:298px;width:2px;height:1px;background:#000;"></div>
<div class="r" style="left:1597px;top:331px;width:2px;height:1px;background:#000;"></div>
<div class="r" style="left:1597px;top:364px;width:2px;height:1px;background:#000;"></div>
<div class="r" style="left:1597px;top:397px;width:2px;height:1px;background:#000;"></div>
<div class="r" style="left:1597px;top:430px;width:2px;height:1px;background:#000;"></div>
<div class="r" style="left:1597px;top:463px;width:2px;height:1px;background:#000;"></div>
<div class="r" style="left:1597px;top:496px;width:2px;height:1px;background:#000;"></div>
<div class="r" style="left:1597px;top:529px;width:2px;height:1px;background:#000;"></div>
<span class="t" style="left:1601.00px;top:30.30px;font-size:9.8px;line-height:9.8px;color:#000;transform:scaleX(0.95);">7.21310</span>
<span class="t" style="left:1601.00px;top:63.80px;font-size:9.8px;line-height:9.8px;color:#000;transform:scaleX(0.95);">7.17680</span>
<span class="t" style="left:1601.00px;top:96.80px;font-size:9.8px;line-height:9.8px;color:#000;transform:scaleX(0.95);">7.14050</span>
<span class="t" style="left:1601.00px;top:162.30px;font-size:9.8px;line-height:9.8px;color:#000;transform:scaleX(0.95);">7.06680</span>
<span class="t" style="left:1601.00px;top:195.80px;font-size:9.8px;line-height:9.8px;color:#000;transform:scaleX(0.95);">7.03050</span>
<span class="t" style="left:1601.00px;top:229.30px;font-size:9.8px;line-height:9.8px;color:#000;transform:scaleX(0.95);">6.99420</span>
<span class="t" style="left:1601.00px;top:261.80px;font-size:9.8px;line-height:9.8px;color:#000;transform:scaleX(0.95);">6.95790</span>
<span class="t" style="left:1601.00px;top:294.80px;font-size:9.8px;line-height:9.8px;color:#000;transform:scaleX(0.95);">6.92050</span>
<span class="t" style="left:1601.00px;top:360.30px;font-size:9.8px;line-height:9.8px;color:#000;transform:scaleX(0.95);">6.84790</span>
<span class="t" style="left:1601.00px;top:393.80px;font-size:9.8px;line-height:9.8px;color:#000;transform:scaleX(0.95);">6.81160</span>
<span class="t" style="left:1601.00px;top:426.30px;font-size:9.8px;line-height:9.8px;color:#000;transform:scaleX(0.95);">6.77420</span>
<span class="t" style="left:1601.00px;top:459.80px;font-size:9.8px;line-height:9.8px;color:#000;transform:scaleX(0.95);">6.73790</span>
<span class="t" style="left:1601.00px;top:492.80px;font-size:9.8px;line-height:9.8px;color:#000;transform:scaleX(0.95);">6.70160</span>
<span class="t" style="left:1601.00px;top:525.80px;font-size:9.8px;line-height:9.8px;color:#000;transform:scaleX(0.95);">6.66530</span>
<div class="r" style="left:1598px;top:137px;width:41px;height:6px;background:#000;"></div>
<div class="r" style="left:1598px;top:38px;width:41px;height:11px;background:#ff0000;"></div>
<span class="t" style="left:1601.00px;top:39.80px;font-size:9.8px;line-height:9.8px;color:#fff;transform:scaleX(0.95);">7.20193</span>
<div class="r" style="left:1598px;top:130px;width:41px;height:11px;background:#ff0000;"></div>
<span class="t" style="left:1601.00px;top:131.80px;font-size:9.8px;line-height:9.8px;color:#fff;transform:scaleX(0.95);">7.10011</span>
<div class="r" style="left:1598px;top:221px;width:41px;height:11px;background:#00ff00;"></div>
<span class="t" style="left:1601.00px;top:222.80px;font-size:9.8px;line-height:9.8px;color:#fff;transform:scaleX(0.95);">7.00029</span>
<div class="r" style="left:1598px;top:327px;width:41px;height:11px;background:#0000ff;"></div>
<span class="t" style="left:1601.00px;top:328.80px;font-size:9.8px;line-height:9.8px;color:#fff;transform:scaleX(0.95);">6.88250</span>
<div class="r" style="left:1598px;top:437px;width:41px;height:11px;background:#0000ff;"></div>
<span class="t" style="left:1601.00px;top:438.80px;font-size:9.8px;line-height:9.8px;color:#fff;transform:scaleX(0.95);">6.76171</span>
<div class="r" style="left:1597px;top:536px;width:1px;height:1px;background:#000;"></div>
<span class="t" style="left:1599.90px;top:537.60px;font-size:9.8px;line-height:9.8px;color:#000;transform:scaleX(0.95);">100</span>
<span class="t" style="left:1599.90px;top:558.80px;font-size:9.8px;line-height:9.8px;color:#000;transform:scaleX(0.95);">70</span>
<span class="t" style="left:1599.90px;top:594.80px;font-size:9.8px;line-height:9.8px;color:#000;transform:scaleX(0.95);">30</span>
<span class="t" style="left:1599.90px;top:616.00px;font-size:9.8px;line-height:9.8px;color:#000;transform:scaleX(0.95);">0</span>
<span class="t" style="left:8.00px;top:539.90px;font-size:9.8px;line-height:9.8px;color:#000;transform:scaleX(0.95);">RSI(14) 56.5658</span>
<span class="t" style="left:1599.90px;top:631.80px;font-size:9.8px;line-height:9.8px;color:#000;transform:scaleX(0.95);">0.063113</span>
<span class="t" style="left:1599.90px;top:681.80px;font-size:9.8px;line-height:9.8px;color:#000;transform:scaleX(0.95);">0.00</span>
<span class="t" style="left:1599.90px;top:710.10px;font-size:9.8px;line-height:9.8px;color:#000;transform:scaleX(0.95);">-0.038872</span>
<div class="r" style="left:1597px;top:685px;width:2px;height:1px;background:#000;"></div>
<span class="t" style="left:8.00px;top:633.90px;font-size:9.8px;line-height:9.8px;color:#000;transform:scaleX(0.957);">MACD(12,26,9) 0.005567 0.003207</span>
<div class="r" style="left:4px;top:721px;width:1px;height:3px;background:#000;"></div>
<span class="t" style="left:3.20px;top:725.90px;font-size:9.8px;line-height:9.8px;color:#000;transform:scaleX(0.97);">11 Apr 2019</span>
<div class="r" style="left:68px;top:721px;width:1px;height:3px;background:#000;"></div>
<span class="t" style="left:67.20px;top:725.90px;font-size:9.8px;line-height:9.8px;color:#000;transform:scaleX(0.97);">1 May 2019</span>
<div class="r" style="left:132px;top:721px;width:1px;height:3px;background:#000;"></div>
<span class="t" style="left:131.20px;top:725.90px;font-size:9.8px;line-height:9.8px;color:#000;transform:scaleX(0.97);">25 May 2019</span>
<div class="r" style="left:196px;top:721px;width:1px;height:3px;background:#000;"></div>
<span class="t" style="left:195.20px;top:725.90px;font-size:9.8px;line-height:9.8px;color:#000;transform:scaleX(0.97);">13 Jun 2019</span>
<div class="r" style="left:260px;top:721px;width:1px;height:3px;background:#000;"></div>
<span class="t" style="left:259.20px;top:725.90px;font-size:9.8px;line-height:9.8px;color:#000;transform:scaleX(0.97);">2 Jul 2019</span>
<div class="r" style="left:324px;top:721px;width:1px;height:3px;background:#000;"></div>
<span class="t" style="left:323.20px;top:725.90px;font-size:9.8px;line-height:9.8px;color:#000;transform:scaleX(0.97);">20 Jul 2019</span>
<div class="r" style="left:388px;top:721px;width:1px;height:3px;background:#000;"></div>
<span class="t" style="left:387.20px;top:725.90px;font-size:9.8px;line-height:9.8px;color:#000;transform:scaleX(0.97);">8 Aug 2019</span>
<div class="r" style="left:452px;top:721px;width:1px;height:3px;background:#000;"></div>
<span class="t" style="left:451.20px;top:725.90px;font-size:9.8px;line-height:9.8px;color:#000;transform:scaleX(0.97);">27 Aug 2019</span>
<div class="r" style="left:516px;top:721px;width:1px;height:3px;background:#000;"></div>
<span class="t" style="left:515.20px;top:725.90px;font-size:9.8px;line-height:9.8px;color:#000;transform:scaleX(0.97);">14 Sep 2019</span>
<div class="r" style="left:580px;top:721px;width:1px;height:3px;background:#000;"></div>
<span class="t" style="left:579.20px;top:725.90px;font-size:9.8px;line-height:9.8px;color:#000;transform:scaleX(0.97);">3 Oct 2019</span>
<div class="r" style="left:644px;top:721px;width:1px;height:3px;background:#000;"></div>
<span class="t" style="left:643.20px;top:725.90px;font-size:9.8px;line-height:9.8px;color:#000;transform:scaleX(0.97);">22 Oct 2019</span>
<div class="r" style="left:708px;top:721px;width:1px;height:3px;background:#000;"></div>
<span class="t" style="left:707.20px;top:725.90px;font-size:9.8px;line-height:9.8px;color:#000;transform:scaleX(0.97);">9 Nov 2019</span>
<div class="r" style="left:772px;top:721px;width:1px;height:3px;background:#000;"></div>
<span class="t" style="left:771.20px;top:725.90px;font-size:9.8px;line-height:9.8px;color:#000;transform:scaleX(0.97);">28 Nov 2019</span>
<div class="r" style="left:836px;top:721px;width:1px;height:3px;background:#000;"></div>
<span class="t" style="left:835.20px;top:725.90px;font-size:9.8px;line-height:9.8px;color:#000;transform:scaleX(0.97);">17 Dec 2019</span>
<div class="r" style="left:900px;top:721px;width:1px;height:3px;background:#000;"></div>
<span class="t" style="left:899.20px;top:725.90px;font-size:9.8px;line-height:9.8px;color:#000;transform:scaleX(0.97);">4 Jan 2020</span>
<div class="r" style="left:964px;top:721px;width:1px;height:3px;background:#000;"></div>
<span class="t" style="left:963.20px;top:725.90px;font-size:9.8px;line-height:9.8px;color:#000;transform:scaleX(0.97);">23 Jan 2020</span>
<div class="r" style="left:1028px;top:721px;width:1px;height:3px;background:#000;"></div>
<span class="t" style="left:1027.20px;top:725.90px;font-size:9.8px;line-height:9.8px;color:#000;transform:scaleX(0.97);">11 Feb 2020</span>
<div class="r" style="left:1092px;top:721px;width:1px;height:3px;background:#000;"></div>
<span class="t" style="left:1091.20px;top:725.90px;font-size:9.8px;line-height:9.8px;color:#000;transform:scaleX(0.97);">29 Feb 2020</span>
<div class="r" style="left:1156px;top:721px;width:1px;height:3px;background:#000;"></div>
<span class="t" style="left:1155.20px;top:725.90px;font-size:9.8px;line-height:9.8px;color:#000;transform:scaleX(0.97);">19 Mar 2020</span>
<div class="r" style="left:1220px;top:721px;width:1px;height:3px;background:#000;"></div>
<span class="t" style="left:1219.20px;top:725.90px;font-size:9.8px;line-height:9.8px;color:#000;transform:scaleX(0.97);">7 Apr 2020</span>
<div class="r" style="left:0px;top:741px;width:1639px;height:1px;background:#e3e3e3;"></div>
<div class="r" style="left:0px;top:742px;width:1639px;height:1px;background:#f4f4f4;"></div>
<div class="r" style="left:0px;top:743px;width:1639px;height:1px;background:#101010;"></div>
<div class="r" style="left:0px;top:744px;width:1639px;height:18px;background:#f0f0f0;"></div>
<div class="r" style="left:0px;top:762px;width:1639px;height:2px;background:#ffffff;"></div>
<div class="r" style="left:0px;top:744px;width:1px;height:18px;background:#6a6a6a;"></div>
<div class="r" style="left:417px;top:743px;width:105px;height:20px;background:#000;"></div>
<div class="r" style="left:418.4px;top:743px;width:102.4px;height:18.4px;background:#fff;"></div>
<span class="t" style="left:17.20px;top:748.24px;font-size:12px;line-height:12px;color:#6b6b6b;">EURUSD,Daily</span>
<span class="t" style="left:119.50px;top:748.24px;font-size:12px;line-height:12px;color:#6b6b6b;">USDCHF,Daily</span>
<span class="t" style="left:220.00px;top:748.24px;font-size:12px;line-height:12px;color:#6b6b6b;">AUDUSD,Daily</span>
<span class="t" style="left:323.80px;top:748.24px;font-size:12px;line-height:12px;color:#6b6b6b;">USDCAD,Daily</span>
<span class="t" style="left:533.20px;top:748.24px;font-size:12px;line-height:12px;color:#6b6b6b;">EURUSD,Daily</span>
<span class="t" style="left:635.00px;top:748.24px;font-size:12px;line-height:12px;color:#6b6b6b;">GBPUSD,M5</span>
<span class="t" style="left:727.50px;top:748.24px;font-size:12px;line-height:12px;color:#6b6b6b;">XAUUSD,H1</span>
<span class="t" style="left:820.50px;top:748.24px;font-size:12px;line-height:12px;color:#6b6b6b;">HK50,H1</span>
<span class="t" style="left:892.50px;top:748.24px;font-size:12px;line-height:12px;color:#6b6b6b;">UK100,H1</span>
<span class="t" style="left:972.50px;top:748.24px;font-size:12px;line-height:12px;color:#6b6b6b;">UK100,H1</span>
<span class="t" style="left:1052.00px;top:748.24px;font-size:12px;line-height:12px;color:#6b6b6b;">GER30,H1</span>
<span class="t" style="left:1131.00px;top:748.24px;font-size:12px;line-height:12px;color:#6b6b6b;">FRA40,H1</span>
<span class="t" style="left:1207.00px;top:748.24px;font-size:12px;line-height:12px;color:#6b6b6b;">USOil,H1</span>
<span class="t" style="left:1279.40px;top:748.24px;font-size:12px;line-height:12px;color:#6b6b6b;">USDJPY,H1</span>
<span class="t" style="left:427.40px;top:748.24px;font-size:12px;line-height:12px;color:#000;letter-spacing:0.1px;">USDCNH,Daily</span>
<div class="r" style="left:109px;top:746px;width:1px;height:14px;background:#555;"></div>
<div class="r" style="left:209px;top:746px;width:1px;height:14px;background:#555;"></div>
<div class="r" style="left:313px;top:746px;width:1px;height:14px;background:#555;"></div>
<div class="r" style="left:625px;top:746px;width:1px;height:14px;background:#555;"></div>
<div class="r" style="left:717px;top:746px;width:1px;height:14px;background:#555;"></div>
<div class="r" style="left:809px;top:746px;width:1px;height:14px;background:#555;"></div>
<div class="r" style="left:881px;top:746px;width:1px;height:14px;background:#555;"></div>
<div class="r" style="left:961px;top:746px;width:1px;height:14px;background:#555;"></div>
<div class="r" style="left:1041px;top:746px;width:1px;height:14px;background:#555;"></div>
<div class="r" style="left:1121px;top:746px;width:1px;height:14px;background:#555;"></div>
<div class="r" style="left:1197px;top:746px;width:1px;height:14px;background:#555;"></div>
<div class="r" style="left:1269px;top:746px;width:1px;height:14px;background:#555;"></div>
<div class="r" style="left:1353px;top:746px;width:1px;height:14px;background:#555;"></div>
<svg class="r" style="left:1608px;top:746px" width="30" height="12"><path d="M9 2 V10 L5 6 Z" fill="#9a9a9a"/><path d="M23 2 V10 L27 6 Z" fill="#9a9a9a"/></svg>
</body></html>
